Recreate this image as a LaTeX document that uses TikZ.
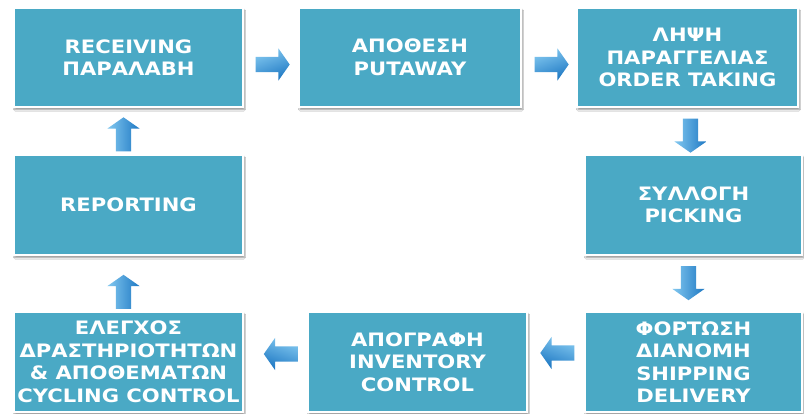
\documentclass[tikz,border=0pt]{standalone}
\usepackage{fontspec}
\newfontfamily\boxfont[FakeStretch=1.14]{DejaVu Sans Bold}
\usetikzlibrary{shapes.arrows,calc,shadows.blur}
\definecolor{boxblue}{RGB}{74,169,197}
\definecolor{arrlight}{RGB}{130,200,240}
\definecolor{arrdark}{RGB}{30,120,195}
\newcommand{\shaftsize}{\phantom{\rule{15pt}{15pt}}}
\tikzset{
  procbox/.style={rectangle, fill=boxblue, draw=white, line width=2.2pt,
    inner sep=0pt, text=white, align=center,
    font=\boxfont\fontsize{18.5}{22.5}\selectfont,
    blur shadow={shadow xshift=1pt, shadow yshift=-2.5pt, shadow blur steps=6, shadow opacity=45}},
  blockarrow/.style={single arrow, inner sep=0pt, minimum height=34pt,
    single arrow head extend=8.5pt, single arrow tip angle=110,
    draw=none},
  rarrow/.style={blockarrow, top color=arrlight, bottom color=arrdark, shading angle=20},
  larrow/.style={blockarrow, shape border rotate=180, top color=arrlight, bottom color=arrdark, shading angle=-20},
  darrow/.style={blockarrow, shape border rotate=270, left color=arrlight, right color=arrdark},
  uarrow/.style={blockarrow, shape border rotate=90, left color=arrlight, right color=arrdark}
}
\begin{document}
\begin{tikzpicture}[x=1pt,y=-1pt]
\useasboundingbox[fill=white] (0,0) rectangle (804,414);
% boxes
\node[procbox, minimum width=229pt, minimum height=99pt] (b1) at (128.5,57.5) {RECEIVING\\ΠΑΡΑΛΑΒΗ};
\node[procbox, minimum width=222pt, minimum height=99pt] (b2) at (410,57.5) {ΑΠΟΘΕΣΗ\\PUTAWAY};
\node[procbox, minimum width=221pt, minimum height=99pt] (b3) at (687.5,57.5) {ΛΗΨΗ\\ΠΑΡΑΓΓΕΛΙΑΣ\\ORDER TAKING};
\node[procbox, minimum width=217pt, minimum height=100pt] (b4) at (693.5,205) {ΣΥΛΛΟΓΗ\\PICKING};
\node[procbox, minimum width=217pt, minimum height=100pt] (b5) at (693.5,362) {ΦΟΡΤΩΣΗ\\ΔΙΑΝΟΜΗ\\SHIPPING\\DELIVERY};
\node[procbox, minimum width=219pt, minimum height=100pt] (b6) at (417.5,362) {ΑΠΟΓΡΑΦΗ\\INVENTORY\\CONTROL};
\node[procbox, minimum width=229pt, minimum height=100pt] (b7) at (128.5,362) {ΕΛΕΓΧΟΣ\\ΔΡΑΣΤΗΡΙΟΤΗΤΩΝ\\\& ΑΠΟΘΕΜΑΤΩΝ\\CYCLING CONTROL};
\node[procbox, minimum width=229pt, minimum height=100pt] (b8) at (128.5,205) {REPORTING};
% arrows
\node[rarrow] (a1) at ($(b1.east)!0.5!(b2.west)+(-1,7)$) {\shaftsize};
\node[rarrow] (a2) at ($(b2.east)!0.5!(b3.west)+(0,7)$) {\shaftsize};
\node[darrow] (a3) at ($(b3.south)!0.5!(b4.north)+(0,2)$) {\shaftsize};
\node[darrow] (a4) at ($(b4.south)!0.5!(b5.north)+(-5,-3)$) {\shaftsize};
\node[larrow] (a5) at ($(b5.west)!0.5!(b6.east)+(4,-9)$) {\shaftsize};
\node[larrow] (a6) at ($(b6.west)!0.5!(b7.east)+(8,-8)$) {\shaftsize};
\node[uarrow] (a7) at ($(b7.north)!0.5!(b8.south)+(-5,11)$) {\shaftsize};
\node[uarrow] (a8) at ($(b8.north)!0.5!(b1.south)+(-5,6)$) {\shaftsize};
\end{tikzpicture}
\end{document}
